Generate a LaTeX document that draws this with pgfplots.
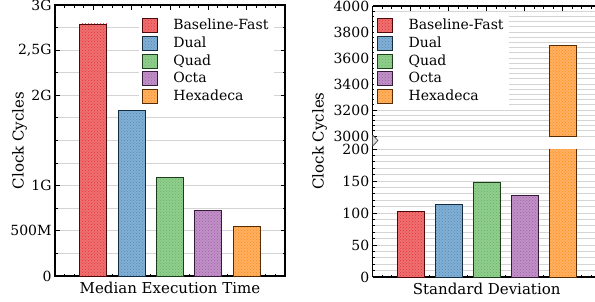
\documentclass[border=0pt]{standalone}
\usepackage{fontspec}
\setmainfont{DejaVu Serif}
\usepackage{pgfplots}
\pgfplotsset{compat=1.18}
\usetikzlibrary{patterns}

\definecolor{cRed}{RGB}{228,26,28}
\definecolor{cBlue}{RGB}{55,126,184}
\definecolor{cGreen}{RGB}{77,175,74}
\definecolor{cPurple}{RGB}{152,78,163}
\definecolor{cOrange}{RGB}{255,127,0}
\definecolor{gridgray}{RGB}{212,212,212}

\newcommand{\chartfont}{\fontsize{14}{17}\selectfont}
\newcommand{\labelfont}{\fontsize{15}{18}\selectfont}

\pgfplotsset{
  mystyle/.style={
    scale only axis,
    xmin=-3, xmax=3,
    xtick={-2,-1,0,1,2}, xticklabels={},
    minor xtick={-2.75,-2.5,...,2.75},
    tick align=inside,
    major tick length=4.5pt, minor tick length=2.5pt,
    every tick/.append style={black, line width=0.9pt},
    axis line style={black, line width=1.2pt},
    ymajorgrids, yminorgrids,
    major grid style={gridgray, line width=0.9pt},
    minor grid style={gridgray, line width=0.9pt},
    tick label style={font=\chartfont},
    label style={font=\labelfont},
    legend style={font=\chartfont, draw=none, fill=white, inner xsep=3pt, inner ysep=2pt,
      nodes={inner sep=2.35pt, text height=10.5pt, text depth=2.5pt},
      /tikz/every odd column/.append style={column sep=13.3pt}},
    legend cell align=left,
    legend image code/.code={\draw[##1] (0pt,-7pt) rectangle (15pt,7pt);},
  },
  lR/.style={fill=cRed!62!white, draw=cRed!35!black, line width=0.9pt, postaction={pattern=crosshatch dots, pattern color=cRed!90!white}},
  lB/.style={fill=cBlue!62!white, draw=cBlue!35!black, line width=0.9pt, postaction={pattern=crosshatch dots, pattern color=cBlue!90!white}},
  lG/.style={fill=cGreen!62!white, draw=cGreen!35!black, line width=0.9pt, postaction={pattern=crosshatch dots, pattern color=cGreen!90!white}},
  lP/.style={fill=cPurple!62!white, draw=cPurple!35!black, line width=0.9pt, postaction={pattern=crosshatch dots, pattern color=cPurple!90!white}},
  lO/.style={fill=cOrange!62!white, draw=cOrange!35!black, line width=0.9pt, postaction={pattern=crosshatch dots, pattern color=cOrange!90!white}},
  barbase/.style={ybar, bar shift=0pt, bar width=0.7, forget plot},
  barR/.style={barbase, lR},
  barB/.style={barbase, lB},
  barG/.style={barbase, lG},
  barP/.style={barbase, lP},
  barO/.style={barbase, lO},
}

\begin{document}
\begin{tikzpicture}[x=1pt,y=1pt]
\useasboundingbox (0,0) rectangle (595,-301);

% Left panel: median execution time (values in units of 10^9 cycles)
\begin{axis}[mystyle, width=230pt, height=271pt, at={(55pt,-276pt)}, anchor=south west,
  ymin=0, ymax=3,
  ytick={0,0.5,1,2,2.5,3}, yticklabels={0,500M,1G,2G,{2,5G},3G},
  minor ytick={0.25,0.75,1.25,1.5,1.75,2.25,2.75},
  xlabel={Median Execution Time},
  xlabel style={at={(axis description cs:0.5,0)}, anchor=north, yshift=-2.3pt},
  ylabel={Clock Cycles},
  ylabel style={at={(axis description cs:-0.154,0.5)}, anchor=center},
  legend style={at={(axis description cs:0.3635,0.9645)}, anchor=north west}]
\addplot[barR] coordinates {(-2,2.79)};
\addplot[barB] coordinates {(-1,1.83)};
\addplot[barG] coordinates {(0,1.088)};
\addplot[barP] coordinates {(1,0.723)};
\addplot[barO] coordinates {(2,0.546)};
\addlegendimage{lR}
\addlegendimage{lB}
\addlegendimage{lG}
\addlegendimage{lP}
\addlegendimage{lO}
\legend{Baseline-Fast,Dual,Quad,Octa,Hexadeca}
\end{axis}

% Right panel, upper part (3000-4000)
\begin{axis}[mystyle, width=228pt, height=130pt, at={(372.7pt,-136pt)}, anchor=south west,
  ymin=3000, ymax=4000,
  ytick={3000,3200,3400,3600,3800,4000}, yticklabels={3000,3200,3400,3600,3800,4000},
  minor y tick num=4,
  axis x line*=top,
  legend style={at={(axis description cs:0.005,0.933)}, anchor=north west}]
\addplot[barO] coordinates {(2,3700)};
\addlegendimage{lR}
\addlegendimage{lB}
\addlegendimage{lG}
\addlegendimage{lP}
\addlegendimage{lO}
\legend{Baseline-Fast,Dual,Quad,Octa,Hexadeca}
\end{axis}

% Right panel, lower part (0-200)
\begin{axis}[mystyle, width=228pt, height=128pt, at={(372.7pt,-277pt)}, anchor=south west,
  ymin=0, ymax=200,
  ytick={0,50,100,150,200}, yticklabels={0,50,100,150,200},
  minor y tick num=4,
  axis x line*=bottom,
  xlabel={Standard Deviation},
  xlabel style={at={(axis description cs:0.5,0)}, anchor=north, yshift=-2.3pt}]
\addplot[barR] coordinates {(-2,102)};
\addplot[barB] coordinates {(-1,114)};
\addplot[barG] coordinates {(0,148.5)};
\addplot[barP] coordinates {(1,127.5)};
\addplot[barO] coordinates {(2,3700)};
\end{axis}

% axis break marker
\draw[black, line width=1.2pt] (372.7,-136) -- (372.7,-149);
\filldraw[fill=gray!25, draw=black!80, line width=0.6pt] (372.7,-135) -- (378,-140.5) -- (372.7,-146);
\node[rotate=90, font=\labelfont] at (319.5,-141) {Clock Cycles};
\end{tikzpicture}
\end{document}
